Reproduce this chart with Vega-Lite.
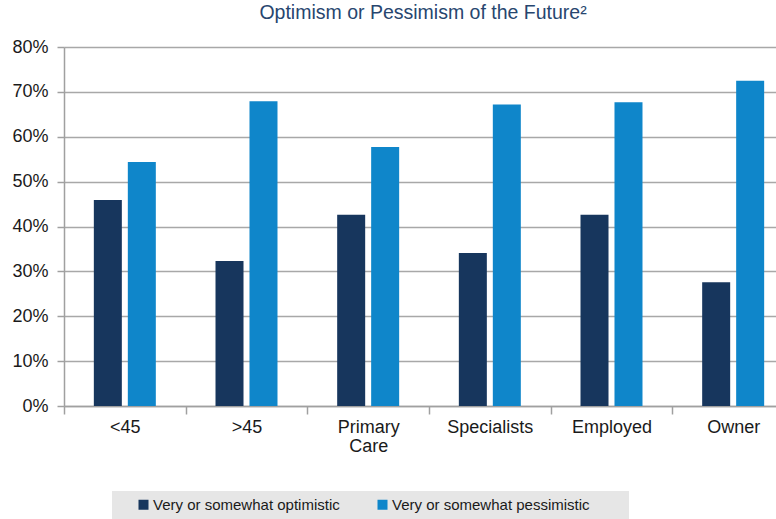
{
  "$schema": "https://vega.github.io/schema/vega-lite/v6.json",
  "autosize": {"type": "none"},
  "padding": {"left": 64, "top": 47, "right": 0, "bottom": 113},
  "width": 712,
  "height": 359,
  "background": "white",
  "title": {
    "text": "Optimism or Pessimism of the Future²",
    "anchor": "middle",
    "frame": "group",
    "font": "Liberation Sans",
    "fontSize": 19.5,
    "fontWeight": "normal",
    "color": "#27466f",
    "offset": 15,
    "dx": 3
  },
  "config": {
    "view": {"stroke": null},
    "font": "Liberation Sans"
  },
  "data": {
    "values": [
      {"group": "<45", "series": "Very or somewhat optimistic", "value": 0.459},
      {"group": "<45", "series": "Very or somewhat pessimistic", "value": 0.544},
      {"group": ">45", "series": "Very or somewhat optimistic", "value": 0.323},
      {"group": ">45", "series": "Very or somewhat pessimistic", "value": 0.679},
      {"group": "Primary Care", "series": "Very or somewhat optimistic", "value": 0.426},
      {"group": "Primary Care", "series": "Very or somewhat pessimistic", "value": 0.577},
      {"group": "Specialists", "series": "Very or somewhat optimistic", "value": 0.341},
      {"group": "Specialists", "series": "Very or somewhat pessimistic", "value": 0.672},
      {"group": "Employed", "series": "Very or somewhat optimistic", "value": 0.426},
      {"group": "Employed", "series": "Very or somewhat pessimistic", "value": 0.677},
      {"group": "Owner", "series": "Very or somewhat optimistic", "value": 0.276},
      {"group": "Owner", "series": "Very or somewhat pessimistic", "value": 0.725}
    ]
  },
  "mark": {"type": "bar"},
  "encoding": {
    "x": {
      "field": "group",
      "type": "nominal",
      "sort": ["<45", ">45", "Primary Care", "Specialists", "Employed", "Owner"],
      "scale": {"range": [0, 730], "paddingInner": 0, "paddingOuter": 0},
      "axis": {
        "title": null,
        "labelAngle": 0,
        "labelFont": "Liberation Sans",
        "labelFontSize": 18,
        "labelColor": "#1a1a1a",
        "labelPadding": 4,
        "labelLineHeight": 19,
        "labelExpr": "datum.label == 'Primary Care' ? ['Primary', 'Care'] : datum.label",
        "tickBand": "extent",
        "tickSize": 8,
        "tickColor": "#a0a0a0",
        "tickWidth": 1.5,
        "domainColor": "#a0a0a0",
        "domainWidth": 1.5,
        "grid": false
      }
    },
    "xOffset": {
      "field": "series",
      "type": "nominal",
      "scale": {"paddingInner": 0.176, "paddingOuter": 0.878}
    },
    "y": {
      "field": "value",
      "type": "quantitative",
      "scale": {"domain": [0, 0.8], "nice": false},
      "axis": {
        "title": null,
        "format": ".0%",
        "values": [0, 0.1, 0.2, 0.3, 0.4, 0.5, 0.6, 0.7, 0.8],
        "labelFont": "Liberation Sans",
        "labelFontSize": 18,
        "labelColor": "#1a1a1a",
        "labelPadding": 9,
        "tickSize": 7,
        "tickColor": "#a0a0a0",
        "tickWidth": 1.5,
        "domainColor": "#a0a0a0",
        "domainWidth": 1.5,
        "gridColor": "#a8a8a8",
        "gridWidth": 1.5
      }
    },
    "color": {
      "field": "series",
      "type": "nominal",
      "scale": {
        "domain": ["Very or somewhat optimistic", "Very or somewhat pessimistic"],
        "range": ["#17365d", "#0f86ca"]
      },
      "legend": {
        "orient": "none",
        "legendX": 48,
        "legendY": 444,
        "direction": "horizontal",
        "title": "\u200b\u00a0\u00a0\u00a0\u200b",
        "titleOrient": "left",
        "titleFont": "Liberation Sans",
        "titleFontSize": 15,
        "titlePadding": 5,
        "fillColor": "#e6e6e6",
        "padding": 6,
        "symbolType": "square",
        "symbolSize": 100,
        "symbolStrokeWidth": 0,
        "symbolOpacity": 1,
        "labelFont": "Liberation Sans",
        "labelFontSize": 15,
        "labelColor": "#1a1a1a",
        "labelOffset": 2,
        "columnPadding": 35,
        "labelLimit": 400,
        "labelExpr": "datum.label == 'Very or somewhat pessimistic' ? datum.label + '\u00a0\u00a0\u00a0\u00a0\u00a0\u00a0\u00a0\u00a0\u200b' : datum.label"
      }
    }
  }
}
